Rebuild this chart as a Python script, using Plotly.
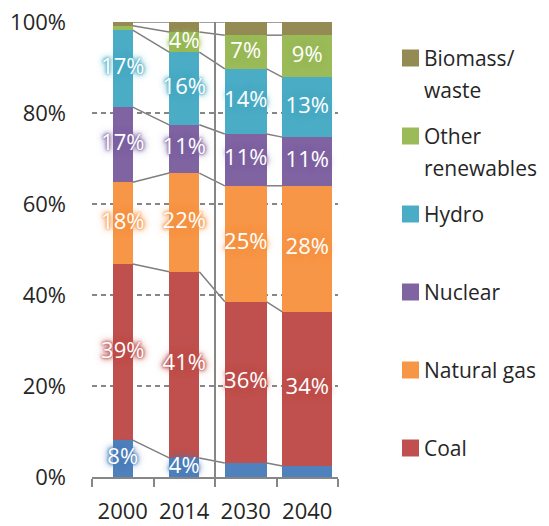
import plotly.graph_objects as go

# ---------------- data ----------------
years = ["2000", "2014", "2030", "2040"]
bar_widths = [0.325, 0.49, 0.68, 0.81]

oil = [8.1, 4.2, 3.1, 2.4]
coal = [38.7, 40.9, 35.4, 33.9]
natural_gas = [18.0, 21.7, 25.5, 27.7]
nuclear = [16.5, 10.6, 11.4, 10.7]
hydro = [16.9, 16.0, 14.3, 13.2]
other_renewables = [1.0, 4.4, 7.4, 9.2]
biomass_waste = [0.8, 2.2, 2.9, 2.9]

labels_oil = ["8%", "4%", "", ""]
labels_coal = ["39%", "41%", "36%", "34%"]
labels_gas = ["18%", "22%", "25%", "28%"]
labels_nuclear = ["17%", "11%", "11%", "11%"]
labels_hydro = ["17%", "16%", "14%", "13%"]
labels_other = ["", "4%", "7%", "9%"]
labels_biomass = ["", "", "", ""]

y_tick_vals = [0, 20, 40, 60, 80, 100]
y_tick_text = ["0%", "20%", "40%", "60%", "80%", "100%"]

# ---------------- styling ----------------
series = [
    ("Oil", oil, labels_oil, "#4F81BD", None),
    ("Coal", coal, labels_coal, "#C0504D", ["Coal"]),
    ("Natural gas", natural_gas, labels_gas, "#F79646", ["Natural gas"]),
    ("Nuclear", nuclear, labels_nuclear, "#8064A2", ["Nuclear"]),
    ("Hydro", hydro, labels_hydro, "#4BACC6", ["Hydro"]),
    ("Other renewables", other_renewables, labels_other, "#9BBB59", ["Other", "renewables"]),
    ("Biomass/waste", biomass_waste, labels_biomass, "#948A54", ["Biomass/", "waste"]),
]

FONT = "Open Sans, Noto Sans, sans-serif"
TXT = "#262626"
GRAY = "#868686"

W, H = 549, 526
L, R, T, B = 92, 211, 22, 49
PW, PH = W - L - R, H - T - B


def hex_rgba(h, a):
    h = h.lstrip("#")
    return f"rgba({int(h[0:2],16)},{int(h[2:4],16)},{int(h[4:6],16)},{a})"


def px_x(px):
    return (px - L) / PW


def px_y(py):
    return (H - B - py) / PH


fig = go.Figure()

# stacked bars
for name, vals, _, color, _ in series:
    fig.add_trace(go.Bar(
        x=years, y=vals, width=bar_widths, name=name,
        marker=dict(color=color, line=dict(width=0)),
        showlegend=False, hoverinfo="skip",
    ))

# cumulative tops
n = len(years)
cum = []
running = [0.0] * n
for _, vals, _, _, _ in series:
    bases = running[:]
    running = [running[i] + vals[i] for i in range(n)]
    cum.append((bases, running[:]))

# connector lines between bars
lx, ly = [], []
for bases, tops in cum:
    for i in range(n - 1):
        lx += [i + bar_widths[i] / 2, i + 1 - bar_widths[i + 1] / 2, None]
        ly += [tops[i], tops[i + 1], None]
fig.add_trace(go.Scatter(
    x=lx, y=ly, xaxis="x2", yaxis="y", mode="lines",
    line=dict(color="#7f7f7f", width=1.5), showlegend=False,
    hoverinfo="skip", cliponaxis=False,
))

# data labels with glow
for (name, vals, labs, color, _), (bases, tops) in zip(series, cum):
    xs, ys, ts = [], [], []
    for i in range(n):
        if labs[i]:
            xs.append(i)
            ys.append(bases[i] + vals[i] / 2)
            ts.append(labs[i])
    if not xs:
        continue
    g = hex_rgba(color, 0.8)
    fig.add_trace(go.Scatter(
        x=xs, y=ys, text=ts, xaxis="x2", yaxis="y", mode="text",
        textposition="middle center",
        textfont=dict(family=FONT, size=22, color="white",
                      shadow=f"0 0 2px {g}, 0 0 3px {g}, 0 0 4px {g}, 0 0 6px {g}, 0 0 8px {g}"),
        showlegend=False, hoverinfo="skip", cliponaxis=False,
    ))

# separator line between historical and projected
fig.add_shape(type="line", xref="x2", yref="y", x0=1.5, x1=1.5, y0=0, y1=100,
              line=dict(color=GRAY, width=2))

# custom legend
legend_items = [s for s in reversed(series) if s[4]]
for k, (name, _, _, color, lines) in enumerate(legend_items):
    cy = 58 + 78 * k
    fig.add_shape(type="rect", xref="paper", yref="paper",
                  x0=px_x(402), x1=px_x(419), y0=px_y(cy + 8.5), y1=px_y(cy - 8.5),
                  fillcolor=color, line=dict(width=0))
    for j, line in enumerate(lines):
        fig.add_annotation(
            xref="paper", yref="paper", x=px_x(422), y=px_y(cy + 32 * j),
            xanchor="left", yanchor="middle", text=line, showarrow=False,
            font=dict(family=FONT, size=21, color=TXT),
        )

fig.update_layout(
    width=W, height=H,
    margin=dict(l=L, r=R, t=T, b=B, autoexpand=False),
    paper_bgcolor="white", plot_bgcolor="white",
    barmode="stack", bargap=0,
    showlegend=False,
    font=dict(family=FONT, size=22, color=TXT),
    xaxis=dict(
        type="category", range=[-0.5, 3.5], showgrid=False,
        showline=True, linecolor=GRAY, linewidth=1.5,
        ticks="outside", tickson="boundaries", ticklen=8, tickcolor=GRAY, tickwidth=1.5,
        ticklabelstandoff=14,
        tickfont=dict(family=FONT, size=22, color=TXT), zeroline=False,
        fixedrange=True, automargin=False,
    ),
    xaxis2=dict(
        overlaying="x", range=[-0.5, 3.5], visible=False, fixedrange=True,
    ),
    yaxis=dict(
        range=[0, 100], tickvals=y_tick_vals, ticktext=y_tick_text,
        showgrid=True, gridcolor=GRAY, gridwidth=1.5, griddash="5px,4px",
        zeroline=False, showline=False, ticks="",
        ticklabelstandoff=25, automargin=False,
        tickfont=dict(family=FONT, size=22, color=TXT), fixedrange=True,
    ),
)

fig.write_html(
    "out.html",
    config={"displayModeBar": False},
    post_script="document.body.style.margin='0';document.body.style.overflow='hidden';",
)
